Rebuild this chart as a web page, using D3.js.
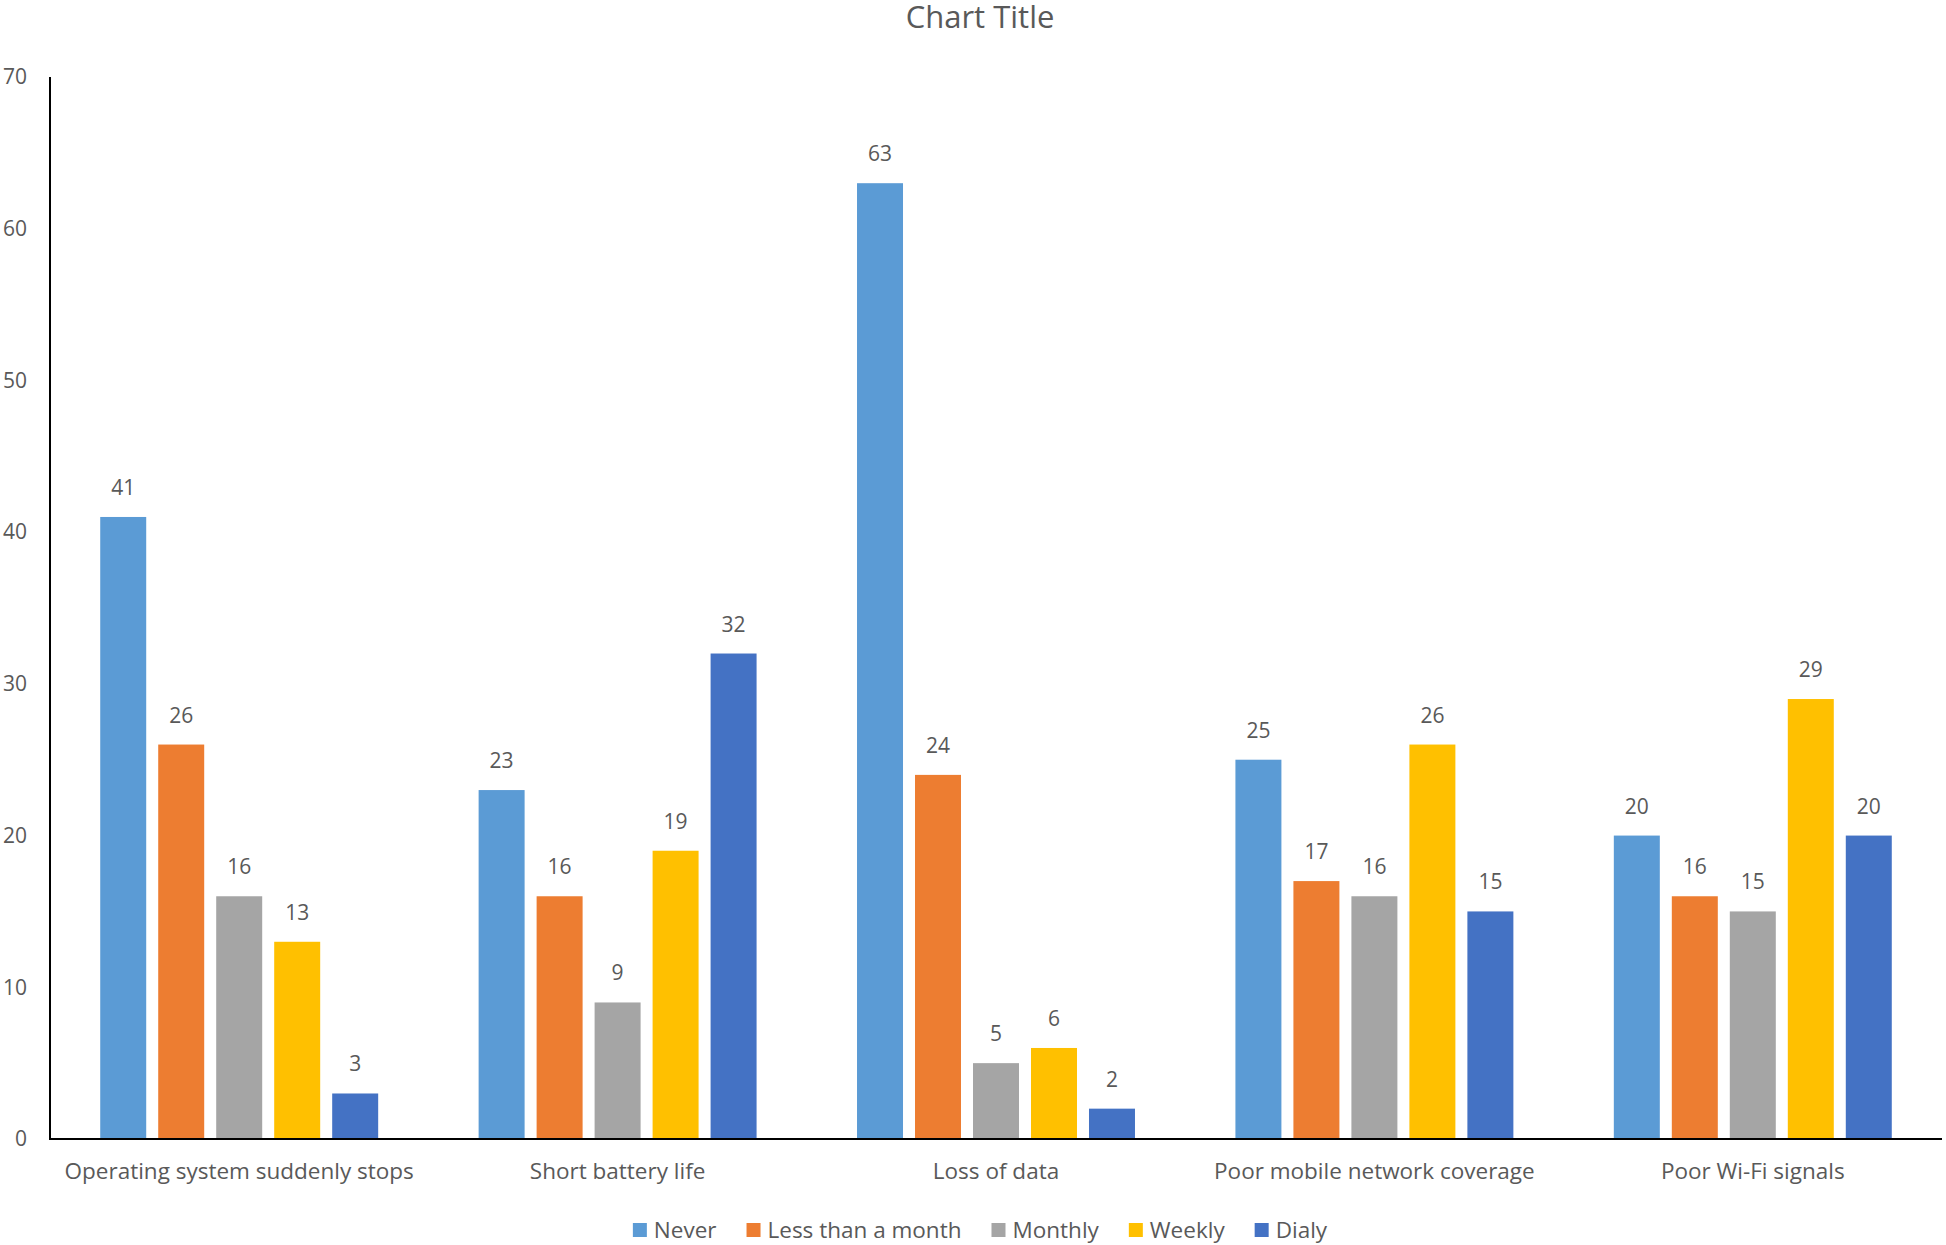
<!DOCTYPE html>
<html>
<head>
<meta charset="utf-8">
<script src="https://cdn.jsdelivr.net/npm/d3@7"></script>
<style>
  body { margin: 0; background: #fff; }
  svg text { font-family: "Open Sans", sans-serif; fill: #595959; }
</style>
</head>
<body>
<svg width="1946" height="1245"></svg>
<script>
var categories = ["Operating system suddenly stops", "Short battery life", "Loss of data", "Poor mobile network coverage", "Poor Wi-Fi signals"];
var seriesNames = ["Never", "Less than a month", "Monthly", "Weekly", "Dialy"];
var never   = [41, 23, 63, 25, 20];
var lessMonth = [26, 16, 24, 17, 16];
var monthly = [16, 9, 5, 16, 15];
var weekly  = [13, 19, 6, 26, 29];
var dialy   = [3, 32, 2, 15, 20];
var colors = ["#5B9BD5", "#ED7D31", "#A5A5A5", "#FFC000", "#4472C4"];
var yTicks = [0, 10, 20, 30, 40, 50, 60, 70];

var values = [never, lessMonth, monthly, weekly, dialy];
var svg = d3.select("svg");

var plotLeft = 50, plotRight = 1942, plotTop = 77, plotBottom = 1139;

var x0 = d3.scaleBand().domain(categories).range([plotLeft, plotRight]).padding(0);
var x1 = d3.scaleBand().domain(seriesNames).range([0, x0.bandwidth()])
  .paddingInner(0.207).paddingOuter(0.866);
var y = d3.scaleLinear().domain([0, 70]).range([plotBottom, plotTop]);

// title
svg.append("text").attr("x", 980).attr("y", 17)
  .attr("dy", "0.35em").attr("text-anchor", "middle").style("font-size", "31px").text("Chart Title");

// y tick labels
svg.selectAll(".ytick").data(yTicks).enter().append("text")
  .attr("x", 27).attr("y", function(d){ return y(d); })
  .attr("dy", "0.35em").attr("text-anchor", "end")
  .style("font-size", "21px").text(function(d){ return d; });

// bars
var rows = [];
categories.forEach(function(c, i){
  seriesNames.forEach(function(s, j){
    rows.push({cat: c, ser: s, v: values[j][i], color: colors[j]});
  });
});

var g = svg.append("g");
g.selectAll("rect").data(rows).enter().append("rect")
  .attr("x", function(d){ return x0(d.cat) + x1(d.ser); })
  .attr("y", function(d){ return y(d.v); })
  .attr("width", x1.bandwidth())
  .attr("height", function(d){ return y(0) - y(d.v); })
  .attr("fill", function(d){ return d.color; });

g.selectAll(".val").data(rows).enter().append("text")
  .attr("x", function(d){ return x0(d.cat) + x1(d.ser) + x1.bandwidth() / 2; })
  .attr("y", function(d){ return y(d.v) - 22; })
  .attr("text-anchor", "middle").style("font-size", "21px")
  .text(function(d){ return d.v; });

// axes lines
svg.append("line").attr("x1", plotLeft).attr("x2", plotLeft).attr("y1", plotTop).attr("y2", plotBottom)
  .attr("stroke", "#000").attr("stroke-width", 2);
svg.append("line").attr("x1", plotLeft - 1).attr("x2", plotRight).attr("y1", plotBottom).attr("y2", plotBottom)
  .attr("stroke", "#000").attr("stroke-width", 2);

// category labels
svg.selectAll(".cat").data(categories).enter().append("text")
  .attr("x", function(d){ return x0(d) + x0.bandwidth() / 2; })
  .attr("y", 1179).attr("text-anchor", "middle").style("font-size", "22.5px")
  .text(function(d){ return d; });

// legend
var leg = svg.append("g");
var lx = 0;
seriesNames.forEach(function(s, j){
  var item = leg.append("g").attr("transform", "translate(" + lx + ",0)");
  item.append("rect").attr("x", 0).attr("y", -7).attr("width", 14).attr("height", 14).attr("fill", colors[j]);
  var t = item.append("text").attr("x", 21).attr("y", 0).attr("dy", "0.35em")
    .style("font-size", "22.5px").text(s);
  lx += 21 + t.node().getComputedTextLength() + 30;
});
lx -= 30;
leg.attr("transform", "translate(" + (980 - lx / 2) + ",1230)");
</script>
</body>
</html>
